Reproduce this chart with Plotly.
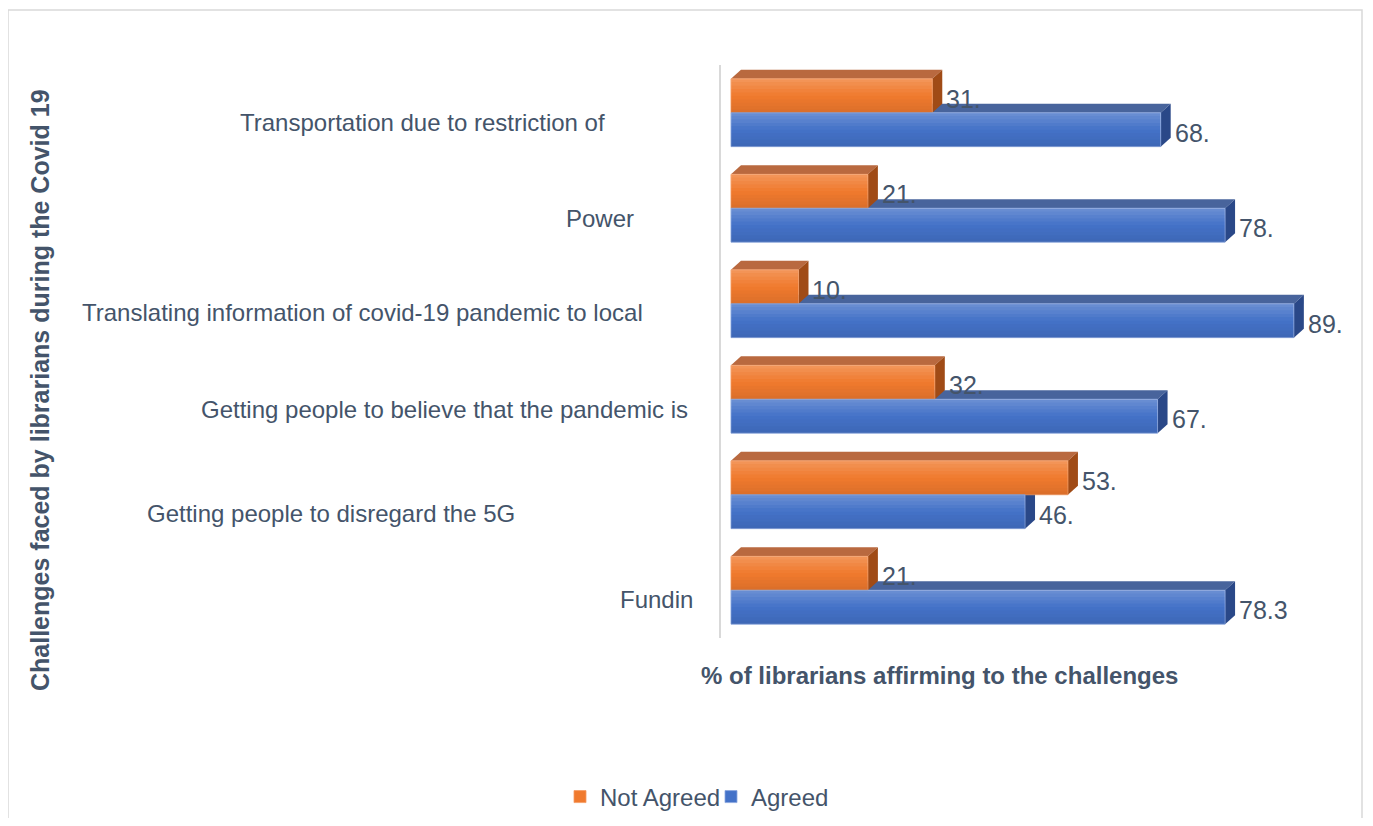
import plotly.graph_objects as go

# ---------------- data ----------------
categories = [
    "Transportation due to restriction of",
    "Power",
    "Translating information of covid-19 pandemic to local",
    "Getting people to believe that the pandemic is",
    "Getting people to disregard the 5G",
    "Fundin",
]
not_agreed = [31.9, 21.7, 10.7, 32.3, 53.4, 21.7]
agreed = [68.1, 78.3, 89.2, 67.6, 46.6, 78.3]
not_agreed_labels = ["31.", "21.", "10.", "32.", "53.", "21."]
agreed_labels = ["68.", "78.", "89.", "67.", "46.", "78.3"]
series_names = ["Not Agreed", "Agreed"]

# ---------------- layout / style ----------------
OX, OY = 8, 8                      # page body margin
W, H = 1373 - OX, 826 - 2 * OY     # figure size so it fits the window
# plot area in screen pixels
PL, PR, PT, PB = 721, 1362, 65, 638
L, T = PL - OX, PT - OY
R, B = W - (PR - OX), H - (PB - OY)
x_range = [-1.58, 100]
plot_w = W - L - R
plot_h = H - T - B
px_per_x = plot_w / (x_range[1] - x_range[0])
n = len(categories)
px_per_cat = plot_h / n
bargap = 0.29
bar_w = (1 - bargap) / 2

depth_dx = 10 / px_per_x      # 3D depth (x, data units)
depth_dy = 9 / px_per_cat     # 3D depth (y, category units)


def px_to_paper_x(px):       # screen px -> paper
    return (px - OX - L) / plot_w


def px_to_paper_y(py):
    return (H - B - (py - OY)) / plot_h


text_color = "#44546A"
font_fam = "Liberation Sans, Arial, sans-serif"

front_colors = ["#F07A2E", "#4472C8"]
top_colors = ["#B9693F", "#48649C"]
side_colors = ["#A04B16", "#2A4888"]
line_colors = ["#F59A62", "#8AA6DE"]

# label placement (screen pixels): right edge of each category label, vertical offset
label_right_px = [607, 636, 645, 690, 517, 695]
label_dy_px = [10, 10, 9, 10, 19, 9]

fig = go.Figure()
for k, (name, vals) in enumerate(zip(series_names, [not_agreed, agreed])):
    fig.add_trace(go.Bar(
        y=categories, x=vals, name=name, orientation="h",
        marker=dict(color=front_colors[k], line=dict(color=line_colors[k], width=0.8)),
        hoverinfo="x+y",
    ))

shapes = []
annotations = []

# outer border
shapes.append(dict(
    type="rect", xref="paper", yref="paper",
    x0=px_to_paper_x(8), x1=px_to_paper_x(1362),
    y0=px_to_paper_y(840), y1=px_to_paper_y(10),
    line=dict(color="#D9D9D9", width=1.5), fillcolor="rgba(0,0,0,0)", layer="below",
))

# 3D faces + front shading: draw Agreed first (lower), then Not Agreed so its side covers
n_str = 10
for k in [1, 0]:
    vals = [not_agreed, agreed][k]
    for i, v in enumerate(vals):
        y_top = i - 0.5 * (1 - bargap) + (0 if k == 0 else bar_w)
        y_bot = y_top + bar_w
        x0, x1 = 0.0, v
        top_path = (f"M {x0},{y_top} L {x1},{y_top} L {x1+depth_dx},{y_top-depth_dy} "
                    f"L {x0+depth_dx},{y_top-depth_dy} Z")
        side_path = (f"M {x1},{y_top} L {x1+depth_dx},{y_top-depth_dy} "
                     f"L {x1+depth_dx},{y_bot-depth_dy} L {x1},{y_bot} Z")
        shapes.append(dict(type="path", path=top_path, xref="x", yref="y",
                           fillcolor=top_colors[k], line=dict(width=0), layer="below"))
        shapes.append(dict(type="path", path=side_path, xref="x", yref="y",
                           fillcolor=side_colors[k], line=dict(width=0), layer="below"))
        # vertical gradient on the front face (light top, darker bottom)
        for j in range(n_str):
            t = (j + 0.5) / n_str
            if t < 0.5:
                col = f"rgba(255,255,255,{0.22 * (0.5 - t) * 2:.3f})"
            else:
                col = f"rgba(0,0,0,{0.09 * (t - 0.5) * 2:.3f})"
            ya = y_top + bar_w * j / n_str
            yb = y_top + bar_w * (j + 1) / n_str
            shapes.append(dict(type="rect", xref="x", yref="y", x0=x0, x1=x1, y0=ya, y1=yb,
                               fillcolor=col, line=dict(width=0), layer="above"))

# value labels
for k, (vals, labs) in enumerate(zip([not_agreed, agreed], [not_agreed_labels, agreed_labels])):
    for i, (v, lab) in enumerate(zip(vals, labs)):
        yc = i - bar_w / 2 if k == 0 else i + bar_w / 2
        annotations.append(dict(
            x=v, y=yc, xref="x", yref="y", text=lab, showarrow=False,
            xanchor="left", yanchor="middle", xshift=12, yshift=-3,
            font=dict(size=25, color=text_color, family=font_fam),
        ))

# category labels
for i, cat in enumerate(categories):
    annotations.append(dict(
        x=0, y=i, xref="paper", yref="y", text=cat, showarrow=False,
        xanchor="right", yanchor="middle", xshift=label_right_px[i] - PL,
        yshift=-label_dy_px[i],
        font=dict(size=24, color=text_color, family=font_fam),
    ))

# axis titles
annotations.append(dict(
    x=px_to_paper_x(939), y=px_to_paper_y(675), xref="paper", yref="paper",
    text="<b>% of librarians affirming to the challenges</b>",
    showarrow=False, xanchor="center", yanchor="middle",
    font=dict(size=24, color=text_color, family=font_fam),
))
annotations.append(dict(
    x=px_to_paper_x(40), y=px_to_paper_y(390), xref="paper", yref="paper",
    text="<b>Challenges faced by librarians during the Covid 19</b>",
    showarrow=False, textangle=-90, xanchor="center", yanchor="middle",
    font=dict(size=25, color=text_color, family=font_fam),
))

fig.update_layout(
    width=W, height=H,
    margin=dict(l=L, r=R, t=T, b=B, autoexpand=False),
    paper_bgcolor="white", plot_bgcolor="white",
    barmode="group", bargap=bargap, bargroupgap=0,
    shapes=shapes, annotations=annotations,
    font=dict(family=font_fam, color=text_color, size=24),
    legend=dict(orientation="h", xref="container", yref="container",
                x=(711 - OX) / W, y=1 - (797 - OY) / H, xanchor="center", yanchor="middle",
                font=dict(size=24, color=text_color, family=font_fam),
                entrywidth=106, entrywidthmode="pixels",
                tracegroupgap=0),
    showlegend=True,
)
fig.update_xaxes(range=x_range, showgrid=False, zeroline=False, showticklabels=False,
                 showline=False, ticks="")
fig.update_yaxes(autorange="reversed", showgrid=False, zeroline=False, showticklabels=False,
                 showline=True, linecolor="#D9D9D9", linewidth=2, ticks="")

fig.write_html("out.html")
